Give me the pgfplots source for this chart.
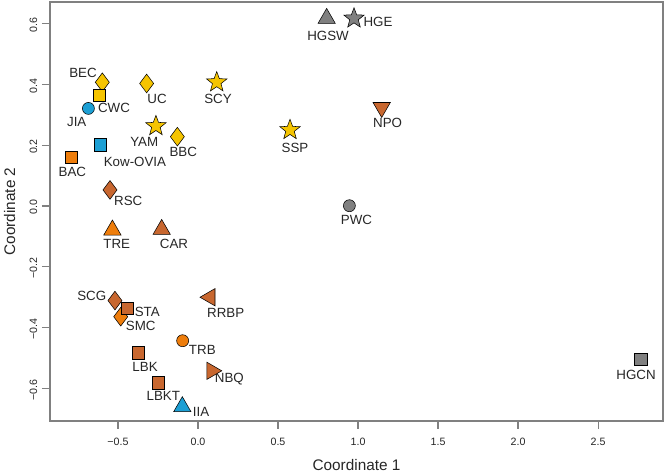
\documentclass[border=0pt]{standalone}
\usepackage{fontspec}
\setmainfont{Liberation Sans}
\usepackage{pgfplots}
\pgfplotsset{compat=1.18}
\definecolor{cgold}{HTML}{F5C400}
\definecolor{corange}{HTML}{EE7D0B}
\definecolor{ccopper}{HTML}{C8672F}
\definecolor{cblue}{HTML}{1C9FD4}
\definecolor{cgray}{HTML}{808080}
\definecolor{cedge}{HTML}{555555}
\pgfdeclareplotmark{fstar}{%
  \pgfpathmoveto{\pgfpointpolar{90}{\pgfplotmarksize}}%
  \pgfpathlineto{\pgfpointpolar{126}{0.42\pgfplotmarksize}}%
  \pgfpathlineto{\pgfpointpolar{162}{\pgfplotmarksize}}%
  \pgfpathlineto{\pgfpointpolar{198}{0.42\pgfplotmarksize}}%
  \pgfpathlineto{\pgfpointpolar{234}{\pgfplotmarksize}}%
  \pgfpathlineto{\pgfpointpolar{270}{0.42\pgfplotmarksize}}%
  \pgfpathlineto{\pgfpointpolar{306}{\pgfplotmarksize}}%
  \pgfpathlineto{\pgfpointpolar{342}{0.42\pgfplotmarksize}}%
  \pgfpathlineto{\pgfpointpolar{18}{\pgfplotmarksize}}%
  \pgfpathlineto{\pgfpointpolar{54}{0.42\pgfplotmarksize}}%
  \pgfpathclose
  \pgfusepathqfillstroke}
\begin{document}
\begin{tikzpicture}
\begin{axis}[
  scale only axis,
  width=459.75pt, height=314.25pt,
  xmin=-0.925, xmax=2.906, ymin=-0.707, ymax=0.671,
  axis line style={draw=cgray, line width=1pt},
  tick style={draw=cgray, line width=0.8pt},
  tick align=outside, major tick length=6pt,
  tick pos=left,
  xtick={-0.5,0,0.5,1,1.5,2,2.5},
  xticklabels={−0.5,0.0,0.5,1.0,1.5,2.0,2.5},
  ytick={-0.6,-0.4,-0.2,0,0.2,0.4,0.6},
  yticklabels={−0.6,−0.4,−0.2,0.0,0.2,0.4,0.6},
  tick label style={font=\fontsize{8}{9}\selectfont, text=black!85},
  xticklabel style={yshift=-3pt},
  yticklabel style={rotate=90, anchor=south, xshift=-1pt},
  xlabel={Coordinate 1}, ylabel={Coordinate 2},
  label style={font=\fontsize{11.5}{13}\selectfont, text=black!85},
  xlabel style={at={(axis description cs:0.5,-0.105)}, anchor=center},
  ylabel style={at={(axis description cs:-0.066,0.5)}, anchor=center},
  every axis plot/.append style={only marks, mark options={draw=cedge, line width=0.5pt}},
  clip=false,
]
\coordinate (bl) at (rel axis cs:0,0);
\coordinate (tr) at (rel axis cs:1,1);
% gold diamonds: BEC, UC, BBC
\addplot[mark=diamond*, mark size=7pt, mark options={fill=cgold}] coordinates {(-0.598,0.407) (-0.321,0.403) (-0.129,0.228)};
% gold square: CWC
\addplot[mark=square*, mark size=4.6pt, mark options={fill=cgold}] coordinates {(-0.619,0.365)};
% gold stars: SCY, YAM, SSP
\addplot[mark=fstar, mark size=8pt, mark options={fill=cgold}] coordinates {(0.117,0.407) (-0.263,0.263) (0.575,0.25)};
% blue circle JIA
\addplot[mark=*, mark size=4.5pt, mark options={fill=cblue}] coordinates {(-0.685,0.321)};
% blue square Kow-OVIA
\addplot[mark=square*, mark size=4.6pt, mark options={fill=cblue}] coordinates {(-0.613,0.201)};
% blue triangle IIA
\addplot[mark=triangle*, mark size=7.5pt, mark options={fill=cblue}] coordinates {(-0.098,-0.66)};
% orange square BAC
\addplot[mark=square*, mark size=4.6pt, mark options={fill=corange}] coordinates {(-0.79,0.16)};
% orange triangle TRE
\addplot[mark=triangle*, mark size=7.5pt, mark options={fill=corange}] coordinates {(-0.535,-0.079)};
% orange diamond SMC
\addplot[mark=diamond*, mark size=7pt, mark options={fill=corange}] coordinates {(-0.483,-0.364)};
% orange circle TRB
\addplot[mark=*, mark size=4.5pt, mark options={fill=corange}] coordinates {(-0.096,-0.443)};
% copper diamonds RSC, SCG
\addplot[mark=diamond*, mark size=7pt, mark options={fill=ccopper}] coordinates {(-0.55,0.053) (-0.519,-0.311)};
% copper squares STA, LBK, LBKT
\addplot[mark=square*, mark size=4.6pt, mark options={fill=ccopper}] coordinates {(-0.442,-0.336) (-0.373,-0.483) (-0.248,-0.581)};
% copper triangle CAR
\addplot[mark=triangle*, mark size=7.5pt, mark options={fill=ccopper}] coordinates {(-0.227,-0.077)};
% copper down triangle NPO
\addplot[mark=triangle*, mark size=7.5pt, mark options={fill=ccopper, rotate=180}] coordinates {(1.148,0.324)};
% copper left triangle RRBP
\addplot[mark=triangle*, mark size=7.5pt, mark options={fill=ccopper, rotate=90}] coordinates {(0.075,-0.30)};
% copper right triangle NBQ
\addplot[mark=triangle*, mark size=7.5pt, mark options={fill=ccopper, rotate=-90}] coordinates {(0.086,-0.542)};
% gray
\addplot[mark=triangle*, mark size=7.5pt, mark options={fill=cgray}] coordinates {(0.804,0.617)};
\addplot[mark=fstar, mark size=8pt, mark options={fill=cgray}] coordinates {(0.975,0.617)};
\addplot[mark=*, mark size=4.5pt, mark options={fill=cgray}] coordinates {(0.946,0.001)};
\addplot[mark=square*, mark size=4.6pt, mark options={fill=cgray}] coordinates {(2.767,-0.504)};
% labels
\begin{scope}[every node/.style={font=\fontsize{10}{12}\selectfont, text=black!85, inner sep=0pt}]
\node at (axis cs:0.8125,0.559) {HGSW};
\node at (axis cs:1.125,0.605) {HGE};
\node at (axis cs:-0.719,0.4375) {BEC};
\node at (axis cs:-0.525,0.322) {CWC};
\node at (axis cs:-0.256,0.352) {UC};
\node at (axis cs:0.125,0.352) {SCY};
\node at (axis cs:-0.758,0.277) {JIA};
\node at (axis cs:-0.336,0.21) {YAM};
\node at (axis cs:-0.092,0.179) {BBC};
\node at (axis cs:0.606,0.191) {SSP};
\node at (axis cs:1.185,0.274) {NPO};
\node at (axis cs:-0.394,0.146) {Kow-OVIA};
\node at (axis cs:-0.785,0.111) {BAC};
\node at (axis cs:-0.436,0.016) {RSC};
\node at (axis cs:0.99,-0.046) {PWC};
\node at (axis cs:-0.508,-0.125) {TRE};
\node at (axis cs:-0.15,-0.123) {CAR};
\node at (axis cs:-0.664,-0.296) {SCG};
\node at (axis cs:-0.317,-0.348) {STA};
\node at (axis cs:-0.358,-0.395) {SMC};
\node at (axis cs:0.173,-0.353) {RRBP};
\node at (axis cs:0.027,-0.474) {TRB};
\node at (axis cs:-0.331,-0.529) {LBK};
\node at (axis cs:0.196,-0.57) {NBQ};
\node at (axis cs:-0.217,-0.625) {LBKT};
\node at (axis cs:0.019,-0.677) {IIA};
\node at (axis cs:2.7375,-0.556) {HGCN};
\end{scope}
\end{axis}
\pgfresetboundingbox
\path ([shift={(-37.5pt,-39.75pt)}]bl) rectangle ([shift={(2.25pt,1.5pt)}]tr);
\end{tikzpicture}
\end{document}
